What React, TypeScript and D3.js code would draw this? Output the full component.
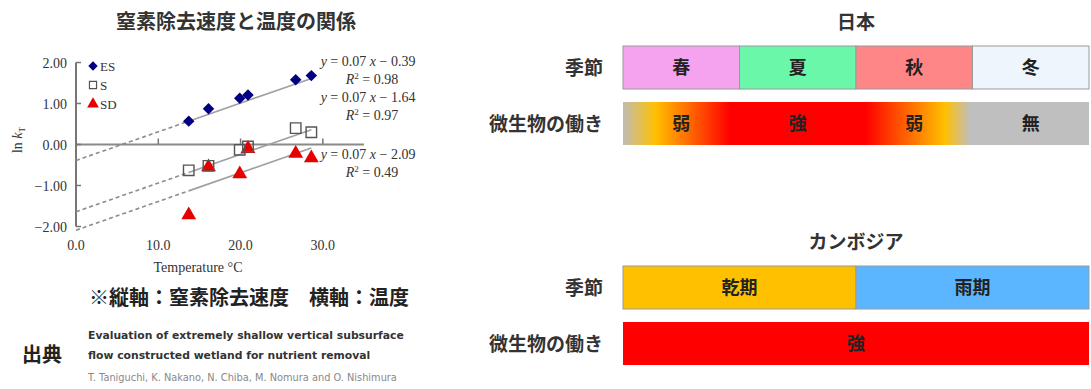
import React from "react";
import * as d3 from "d3";

// ---------- scatter data ----------
const temps = [13.7, 16.1, 19.9, 20.9, 26.7, 28.6];
const esValues = [0.57, 0.87, 1.13, 1.21, 1.58, 1.68];
const sValues = [-0.63, -0.52, -0.13, -0.05, 0.4, 0.3];
const sdValues = [-1.72, -0.55, -0.72, -0.1, -0.22, -0.33];
const seriesNames = ["ES", "S", "SD"];
const slopes = [0.07, 0.07, 0.07];
const intercepts = [-0.39, -1.64, -2.09];
const r2s = ["0.98", "0.97", "0.49"];
const yTicks = [2, 1, 0, -1, -2];
const xTicks = [0, 10, 20, 30];

// ---------- season data ----------
const seasonsJP = ["春", "夏", "秋", "冬"];
const seasonColorsJP = ["#f5a3ee", "#6af7a9", "#ff8686", "#eef5fd"];
const microbeJP = ["弱", "強", "弱", "無"];
const gradOffsets = [0, 0.07, 0.23, 0.52, 0.69, 0.745, 1];
const gradColors = ["#c0bcb4", "#ffc000", "#ff0000", "#ff0000", "#ffc000", "#bfbfbf", "#bfbfbf"];
const seasonsKH = ["乾期", "雨期"];
const seasonColorsKH = ["#ffc000", "#5cb6ff"];
const microbeKH = ["強"];
const microbeKHColor = "#ff0000";

const JP = "'Noto Sans CJK JP', 'Noto Sans', sans-serif";
const SERIF = "'Liberation Serif', 'DejaVu Serif', serif";

export default function App() {
  const x = d3.scaleLinear().domain([0, 35]).range([76, 364]);
  const y = d3.scaleLinear().domain([-2, 2]).range([226.5, 62.5]);
  const xMin = d3.min(temps) as number;
  const xMax = d3.max(temps) as number;
  const line = d3.line<[number, number]>().x((d) => x(d[0])).y((d) => y(d[1]));

  const diamond = d3.symbol().type(d3.symbolSquare).size(66)() as string;
  const square = d3.symbol().type(d3.symbolSquare).size(110)() as string;
  const triangle = d3.symbol().type(d3.symbolTriangle).size(95)() as string;
  const diamondL = d3.symbol().type(d3.symbolSquare).size(44)() as string;
  const squareL = d3.symbol().type(d3.symbolSquare).size(50)() as string;
  const triangleL = d3.symbol().type(d3.symbolTriangle).size(60)() as string;

  const barL = 623;
  const barR = 1089;
  const bandJP = d3.scaleBand().domain(seasonsJP).range([barL, barR]).paddingInner(0);
  const bandKH = d3.scaleBand().domain(seasonsKH).range([barL, barR]).paddingInner(0);
  const bandKHm = d3.scaleBand().domain(microbeKH).range([barL, barR]);

  const eqY = [66, 102, 159];

  const panel = (top: number, title: string, kind: "jp" | "kh") => (
    <g>
      <text x={(barL + barR) / 2} y={top + 29} textAnchor="middle" fontFamily={JP} fontWeight={700} fontSize={19} fill="#333">
        {title}
      </text>
      <text x={603} y={top + 75} textAnchor="end" fontFamily={JP} fontWeight={700} fontSize={19} fill="#333">季節</text>
      <text x={603} y={top + 131} textAnchor="end" fontFamily={JP} fontWeight={700} fontSize={19} fill="#333">微生物の働き</text>
      {kind === "jp"
        ? seasonsJP.map((s, i) => (
            <g key={s}>
              <rect x={bandJP(s)} y={top + 46} width={bandJP.bandwidth()} height={43} fill={seasonColorsJP[i]} stroke="#9a9a9a" strokeWidth={1} />
              <text x={(bandJP(s) as number) + bandJP.bandwidth() / 2} y={top + 74} textAnchor="middle" fontFamily={JP} fontWeight={700} fontSize={18} fill="#222">{s}</text>
            </g>
          ))
        : seasonsKH.map((s, i) => (
            <g key={s}>
              <rect x={bandKH(s)} y={top + 46} width={bandKH.bandwidth()} height={43} fill={seasonColorsKH[i]} stroke="#9a9a9a" strokeWidth={1} />
              <text x={(bandKH(s) as number) + bandKH.bandwidth() / 2} y={top + 74} textAnchor="middle" fontFamily={JP} fontWeight={700} fontSize={18} fill="#222">{s}</text>
            </g>
          ))}
      {kind === "jp" ? (
        <g>
          <rect x={barL} y={top + 102} width={barR - barL} height={43} fill="url(#microbeJP)" />
          {microbeJP.map((m, i) => (
            <text key={i} x={(bandJP(seasonsJP[i]) as number) + bandJP.bandwidth() / 2} y={top + 130} textAnchor="middle" fontFamily={JP} fontWeight={700} fontSize={18} fill="#222">{m}</text>
          ))}
        </g>
      ) : (
        <g>
          {microbeKH.map((m) => (
            <g key={m}>
              <rect x={bandKHm(m)} y={top + 102} width={bandKHm.bandwidth()} height={43} fill={microbeKHColor} />
              <text x={(bandKHm(m) as number) + bandKHm.bandwidth() / 2} y={top + 130} textAnchor="middle" fontFamily={JP} fontWeight={700} fontSize={18} fill="#222">{m}</text>
            </g>
          ))}
        </g>
      )}
    </g>
  );

  return (
    <svg width={1091} height={389} style={{ position: "absolute", left: 0, top: 0, background: "#fff" }}>
      <defs>
        <linearGradient id="microbeJP" x1="0" x2="1" y1="0" y2="0">
          {gradOffsets.map((o, i) => (
            <stop key={i} offset={o} stopColor={gradColors[i]} />
          ))}
        </linearGradient>
      </defs>
      <rect width={1091} height={389} fill="#fff" />

      {/* title */}
      <text x={236} y={29} textAnchor="middle" fontFamily={JP} fontWeight={700} fontSize={20} fill="#333">
        窒素除去速度と温度の関係
      </text>

      {/* axes */}
      <line x1={x(0)} x2={x(35)} y1={y(0)} y2={y(0)} stroke="#8a8a8a" strokeWidth={2} />
      <line x1={x(0)} x2={x(0)} y1={y(2)} y2={y(-2)} stroke="#777" strokeWidth={2} />
      {yTicks.map((t) => (
        <g key={t}>
          <line x1={x(0)} x2={x(0) + 5} y1={y(t)} y2={y(t)} stroke="#777" strokeWidth={1.5} />
          <text x={67} y={y(t) + 5} textAnchor="end" fontFamily={SERIF} fontSize={14} fill="#333">
            {t < 0 ? "−" + Math.abs(t).toFixed(2) : t.toFixed(2)}
          </text>
        </g>
      ))}
      {xTicks.map((t) => (
        <g key={t}>
          {t > 0 && <line x1={x(t)} x2={x(t)} y1={y(0)} y2={y(0) - 6} stroke="#777" strokeWidth={1.5} />}
          <text x={x(t)} y={250} textAnchor="middle" fontFamily={SERIF} fontSize={14} fill="#333">
            {t.toFixed(1)}
          </text>
        </g>
      ))}
      <text x={198} y={272} textAnchor="middle" fontFamily={SERIF} fontSize={14} fill="#333">
        Temperature °C
      </text>
      <text transform="translate(22,140) rotate(-90)" textAnchor="middle" fontFamily={SERIF} fontSize={14} fill="#333">
        ln <tspan fontStyle="italic">k</tspan>
        <tspan fontSize={9} dy={3}>T</tspan>
      </text>

      {/* regression lines */}
      {slopes.map((s, i) => (
        <g key={i}>
          <path d={line([[0, intercepts[i]], [xMin, s * xMin + intercepts[i]]]) as string} stroke="#8c8c8c" strokeWidth={1.6} strokeDasharray="4,3" fill="none" />
          <path d={line([[xMin, s * xMin + intercepts[i]], [xMax, s * xMax + intercepts[i]]]) as string} stroke="#a0a0a0" strokeWidth={1.6} fill="none" />
        </g>
      ))}

      {/* points */}
      {temps.map((t, i) => (
        <path key={"sd" + i} d={triangle} transform={`translate(${x(t)},${y(sdValues[i])})`} fill="#e60000" />
      ))}
      {temps.map((t, i) => (
        <path key={"s" + i} d={square} transform={`translate(${x(t)},${y(sValues[i])})`} fill="none" stroke="#555" strokeWidth={1.4} />
      ))}
      {temps.map((t, i) => (
        <path key={"es" + i} d={diamond} transform={`translate(${x(t)},${y(esValues[i])}) rotate(45)`} fill="#000080" />
      ))}

      {/* legend */}
      {seriesNames.map((n, i) => (
        <g key={n} transform={`translate(93,${66 + i * 19})`}>
          {i === 0 && <path d={diamondL} transform="rotate(45)" fill="#000080" />}
          {i === 1 && <path d={squareL} fill="#fff" stroke="#555" strokeWidth={1.2} />}
          {i === 2 && <path d={triangleL} fill="#e60000" />}
          <text x={7} y={5} fontFamily={SERIF} fontSize={13} fill="#333">{n}</text>
        </g>
      ))}

      {/* equations */}
      {slopes.map((s, i) => (
        <g key={i} fontFamily={SERIF} fontSize={14} fill="#333">
          <text x={368} y={eqY[i]} textAnchor="middle">
            <tspan fontStyle="italic">y</tspan> = {s.toFixed(2)} <tspan fontStyle="italic">x</tspan> − {Math.abs(intercepts[i]).toFixed(2)}
          </text>
          <text x={372} y={eqY[i] + 18} textAnchor="middle">
            <tspan fontStyle="italic">R</tspan>
            <tspan fontSize={9} dy={-5}>2</tspan>
            <tspan dy={5}> = {r2s[i]}</tspan>
          </text>
        </g>
      ))}

      {/* notes */}
      <text x={249} y={305} textAnchor="middle" fontFamily={JP} fontWeight={700} fontSize={20} fill="#222">
        ※縦軸：窒素除去速度　横軸：温度
      </text>
      <text x={42} y={362} textAnchor="middle" fontFamily={JP} fontWeight={700} fontSize={20} fill="#222">出典</text>
      <text x={88} y={339} fontFamily="'DejaVu Sans', sans-serif" fontWeight={700} fontSize={10.8} fill="#333">
        Evaluation of extremely shallow vertical subsurface
      </text>
      <text x={88} y={359} fontFamily="'DejaVu Sans', sans-serif" fontWeight={700} fontSize={10.8} fill="#333">
        flow constructed wetland for nutrient removal
      </text>
      <text x={88} y={381} fontFamily="'DejaVu Sans', sans-serif" fontSize={9.8} fill="#888">
        T. Taniguchi, K. Nakano, N. Chiba, M. Nomura and O. Nishimura
      </text>

      {panel(0, "日本", "jp")}
      {panel(220, "カンボジア", "kh")}
    </svg>
  );
}
